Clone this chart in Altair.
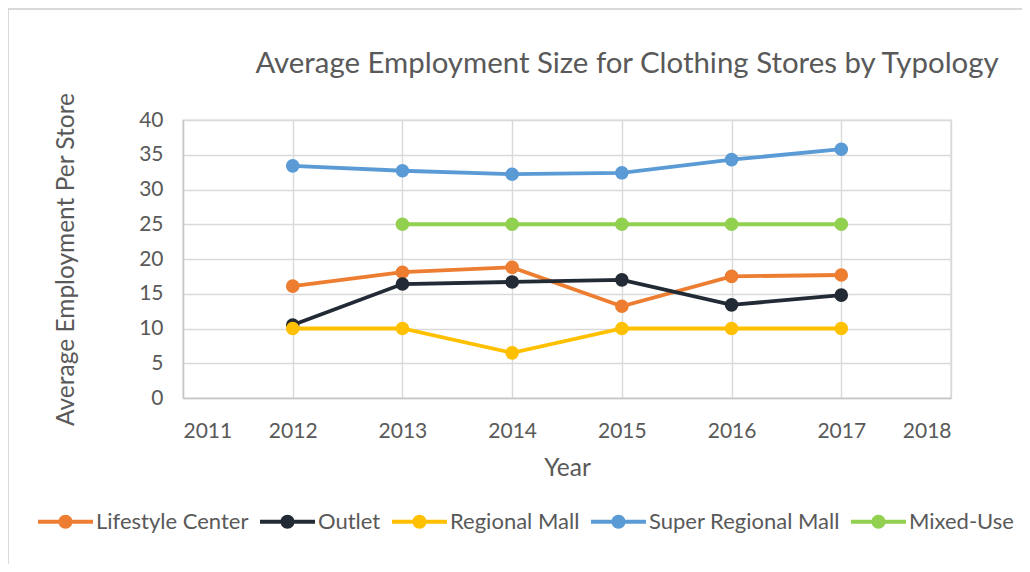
import altair as alt
import pandas as pd

years = [2012, 2013, 2014, 2015, 2016, 2017]
series = ["Lifestyle Center", "Outlet", "Regional Mall", "Super Regional Mall", "Mixed-Use"]
colors = ["#ED7D31", "#222A35", "#FFC000", "#5B9BD5", "#92D050"]
lifestyle = [16.1, 18.1, 18.8, 13.2, 17.5, 17.7]
outlet = [10.5, 16.4, 16.7, 17.0, 13.4, 14.8]
regional = [10, 10, 6.5, 10, 10, 10]
super_regional = [33.4, 32.7, 32.2, 32.4, 34.3, 35.8]
mixed = [None, 25, 25, 25, 25, 25]
x_ticks = [2011, 2012, 2013, 2014, 2015, 2016, 2017, 2018]
y_ticks = [0, 5, 10, 15, 20, 25, 30, 35, 40]

rows = []
for name, vals in zip(series, [lifestyle, outlet, regional, super_regional, mixed]):
    for yr, v in zip(years, vals):
        if v is not None:
            rows.append({"Year": yr, "Value": v, "Series": name})
df = pd.DataFrame(rows)

FONT = "Lato"
TXT = "#595959"
GRID = "#D9D9D9"

legend_path = ("M-1,-0.073H-0.24V0.073H-1Z M0.24,-0.073H1V0.073H0.24Z "
               "M-0.255,0A0.255,0.255 0 1,1 0.255,0A0.255,0.255 0 1,1 -0.255,0Z")

def make_legend():
    return alt.Legend(title=None, orient="none", direction="horizontal",
                      legendX=-145, legendY=374, symbolType=legend_path,
                      symbolSize=3025, symbolStrokeWidth=0,
                      labelFontSize=22, labelColor=TXT, labelFont=FONT, labelLimit=400,
                      columnPadding=11, labelOffset=3, padding=0)

x_enc = alt.X("Year:Q", scale=alt.Scale(domain=[2011, 2018], nice=False),
              axis=alt.Axis(values=x_ticks, format="d", title="Year",
                            labelPadding=22, titlePadding=15))
y_enc = alt.Y("Value:Q", scale=alt.Scale(domain=[0, 40], nice=False),
              axis=alt.Axis(values=y_ticks, title="Average Employment Per Store",
                            labelPadding=20, titlePadding=60))

# light frame around the whole chart (decoration)
frame = alt.Chart(pd.DataFrame({"k": [0]})).mark_rect(
    fill="transparent", stroke=GRID, strokeWidth=2
).encode(x=alt.value(-175), x2=alt.value(900), y=alt.value(-111), y2=alt.value(600))

lines = alt.Chart(df).mark_line(strokeWidth=3.8).encode(
    x=x_enc, y=y_enc,
    stroke=alt.Stroke("Series:N", scale=alt.Scale(domain=series, range=colors), legend=make_legend()),
    detail="Series:N",
)

points = alt.Chart(df).mark_circle(size=185, opacity=1).encode(
    x=x_enc, y=y_enc,
    fill=alt.Fill("Series:N", scale=alt.Scale(domain=series, range=colors), legend=make_legend()),
)

chart = alt.layer(frame, lines, points).properties(
    width=768, height=278,
    autosize=alt.AutoSizeParams(type="none"),
    padding={"left": 175, "top": 112, "right": 71, "bottom": 166},
    title=alt.TitleParams("Average Employment Size for Clothing Stores by Typology",
                          fontSize=29.4, font=FONT, color=TXT, fontWeight="normal",
                          anchor="middle", dx=60, offset=-71),
).configure_axis(
    labelFont=FONT, labelFontSize=21, labelColor=TXT,
    titleFont=FONT, titleFontSize=24.5, titleColor=TXT, titleFontWeight="normal",
    ticks=False, gridColor=GRID, gridWidth=1.4, domainColor="#C8C8C8", domainWidth=1.4,
).configure_view(stroke=GRID, strokeWidth=1.4)

chart.save("out.html", embed_options={"renderer": "svg", "actions": False})
